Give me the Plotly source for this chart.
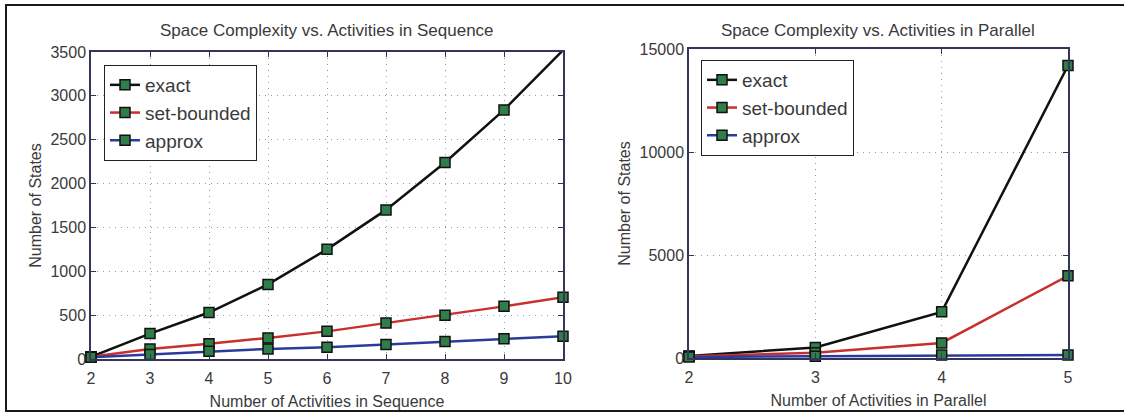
import plotly.graph_objects as go

W, H = 1124, 415

# ---- data ----
seq_n = [2, 3, 4, 5, 6, 7, 8, 9, 10]
seq_exact = [25, 290, 530, 850, 1250, 1700, 2240, 2840, 3520]
seq_setbounded = [25, 115, 175, 240, 315, 410, 500, 600, 705]
seq_approx = [20, 50, 88, 115, 135, 165, 200, 230, 260]

par_n = [2, 3, 4, 5]
par_exact = [100, 510, 2240, 14200]
par_setbounded = [80, 250, 730, 3990]
par_approx = [50, 80, 140, 150]

series_names = ["exact", "set-bounded", "approx"]
series_colors = ["#111111", "#c8302e", "#2b3a9c"]

seq_yticks = [0, 500, 1000, 1500, 2000, 2500, 3000, 3500]
par_yticks = [0, 5000, 10000, 15000]

FONT = "Liberation Sans, Arial, sans-serif"
TEXT = "#3a3a3a"
AXIS = "#33365a"
GRID = "#9096bd"
MARKER_FILL = "#2f7d49"


def px_x(p):
    return p / W


def px_y(p):
    return 1 - p / H


fig = go.Figure()

for vals, name, color in zip([seq_exact, seq_setbounded, seq_approx], series_names, series_colors):
    fig.add_trace(go.Scatter(
        x=seq_n, y=vals, name=name, mode="lines+markers",
        line=dict(color=color, width=2.5),
        marker=dict(symbol="square", size=10, color=MARKER_FILL,
                    line=dict(color="#111111", width=1.5)),
        cliponaxis=False, xaxis="x", yaxis="y", legend="legend",
    ))

for vals, name, color in zip([par_exact, par_setbounded, par_approx], series_names, series_colors):
    fig.add_trace(go.Scatter(
        x=par_n, y=vals, name=name, mode="lines+markers",
        line=dict(color=color, width=2.5),
        marker=dict(symbol="square", size=10, color=MARKER_FILL,
                    line=dict(color="#111111", width=1.5)),
        cliponaxis=False, xaxis="x2", yaxis="y2", legend="legend2",
    ))

axis_common = dict(
    automargin=False,
    showline=True, linecolor=AXIS, linewidth=1.5, mirror="ticks",
    ticks="inside", ticklen=5, tickcolor=AXIS, tickwidth=1,
    showgrid=True, gridcolor=GRID, griddash="1px,5px", gridwidth=1.2,
    zeroline=False, tickformat="d",
    tickfont=dict(family=FONT, size=16, color=TEXT),
)

x_title = lambda t: dict(text=t, standoff=10, font=dict(size=16, color=TEXT))
y_title = dict(text="Number of States", standoff=5, font=dict(size=16, color=TEXT))

fig.update_layout(
    width=W, height=H,
    margin=dict(l=0, r=0, t=0, b=0),
    paper_bgcolor="white", plot_bgcolor="white",
    font=dict(family=FONT, size=16, color=TEXT),
    xaxis=dict(domain=[px_x(91), px_x(563)], range=[2, 10], tickvals=seq_n,
               title=x_title("Number of Activities in Sequence"), ticklabelstandoff=4,
               anchor="y", **axis_common),
    yaxis=dict(domain=[px_y(359), px_y(52)], range=[0, 3500], tickvals=seq_yticks,
               title=y_title, anchor="x", **axis_common),
    xaxis2=dict(domain=[px_x(689), px_x(1068)], range=[2, 5], tickvals=par_n,
                title=x_title("Number of Activities in Parallel"), ticklabelstandoff=4,
                anchor="y2", **axis_common),
    yaxis2=dict(domain=[px_y(358), px_y(49)], range=[0, 15000], tickvals=par_yticks,
                title=y_title, anchor="x2", **axis_common),
    legend=dict(x=px_x(104), y=px_y(65), xanchor="left", yanchor="top",
                bgcolor="white", bordercolor="#222222", borderwidth=1,
                font=dict(family=FONT, size=19, color=TEXT)),
    legend2=dict(x=px_x(701), y=px_y(60), xanchor="left", yanchor="top",
                 bgcolor="white", bordercolor="#222222", borderwidth=1,
                 font=dict(family=FONT, size=19, color=TEXT)),
    showlegend=True,
    annotations=[
        dict(text="Space Complexity vs. Activities in Sequence", x=px_x(327), y=px_y(31),
             xref="paper", yref="paper", showarrow=False, xanchor="center", yanchor="middle",
             font=dict(family=FONT, size=17, color=TEXT)),
        dict(text="Space Complexity vs. Activities in Parallel", x=px_x(878), y=px_y(30),
             xref="paper", yref="paper", showarrow=False, xanchor="center", yanchor="middle",
             font=dict(family=FONT, size=17, color=TEXT)),
    ],
    shapes=[
        dict(type="rect", xref="paper", yref="paper",
             x0=px_x(6), x1=px_x(1130), y0=px_y(411), y1=px_y(5),
             line=dict(color="#1a1a1a", width=2), layer="below"),
    ],
)

fig.write_html("out.html")
